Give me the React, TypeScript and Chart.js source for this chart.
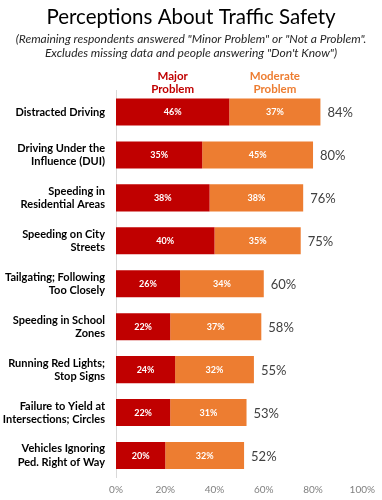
import React, { useEffect, useRef } from "react";
import { Chart, registerables } from "chart.js";

Chart.register(...registerables);

const categories: string[][] = [
  ["Distracted Driving"],
  ["Driving Under the", "Influence (DUI)"],
  ["Speeding in", "Residential Areas"],
  ["Speeding on City", "Streets"],
  ["Tailgating; Following", "Too Closely"],
  ["Speeding in School", "Zones"],
  ["Running Red Lights;", "Stop Signs"],
  ["Failure to Yield at", "Intersections; Circles"],
  ["Vehicles Ignoring", "Ped. Right of Way"],
];
const majorProblem = [46, 35, 38, 40, 26, 22, 24, 22, 20];
const moderateProblem = [37, 45, 38, 35, 34, 37, 32, 31, 32];
const totals = [84, 80, 76, 75, 60, 58, 55, 53, 52];
const xTicks = [0, 20, 40, 60, 80, 100];

const TITLE = "Perceptions About Traffic Safety";
const SUBTITLE = [
  '(Remaining respondents answered "Minor Problem" or "Not a Problem".',
  'Excludes missing data and people answering "Don\'t Know")',
];
const seriesNames = [["Major", "Problem"], ["Moderate", "Problem"]];

const RED = "#c00000";
const ORANGE = "#ed7d31";
const FONT = "Lato, 'Open Sans', sans-serif";

const overlay = {
  id: "overlay",
  afterDraw(chart: any) {
    const ctx = chart.ctx;
    const w = chart.width;
    ctx.save();
    // title
    ctx.fillStyle = "#000";
    ctx.textAlign = "center";
    ctx.textBaseline = "middle";
    ctx.font = `20.5px ${FONT}`;
    ctx.fillText(TITLE, w / 2, 17);
    ctx.font = `italic 12px ${FONT}`;
    ctx.fillStyle = "#262626";
    ctx.fillText(SUBTITLE[0], w / 2, 39);
    ctx.fillText(SUBTITLE[1], w / 2, 53);

    const m0 = chart.getDatasetMeta(0);
    const m1 = chart.getDatasetMeta(1);
    // headers above first bar
    ctx.font = `bold 11.5px ${FONT}`;
    const b0 = m0.data[0];
    const b1 = m1.data[0];
    const c0 = (b0.base + b0.x) / 2;
    const c1 = (b1.base + b1.x) / 2;
    ctx.fillStyle = RED;
    ctx.fillText(seriesNames[0][0], c0, 76);
    ctx.fillText(seriesNames[0][1], c0, 89);
    ctx.fillStyle = ORANGE;
    ctx.fillText(seriesNames[1][0], c1, 76);
    ctx.fillText(seriesNames[1][1], c1, 89);

    // inside labels
    ctx.font = `bold 9px ${FONT}`;
    ctx.fillStyle = "#fff";
    [m0, m1].forEach((meta: any, di: number) => {
      const vals = di === 0 ? majorProblem : moderateProblem;
      meta.data.forEach((bar: any, i: number) => {
        ctx.fillText(vals[i] + "%", (bar.base + bar.x) / 2, bar.y + 0.5);
      });
    });
    // totals
    ctx.font = `13px ${FONT}`;
    ctx.fillStyle = "#404040";
    ctx.textAlign = "left";
    m1.data.forEach((bar: any, i: number) => {
      ctx.fillText(totals[i] + "%", bar.x + 7, bar.y + 1);
    });
    ctx.restore();
  },
};

export default function App() {
  const ref = useRef<HTMLCanvasElement>(null);
  useEffect(() => {
    if (!ref.current) return;
    const chart = new Chart(ref.current, {
      type: "bar",
      data: {
        labels: categories,
        datasets: [
          {
            label: "Major Problem",
            data: majorProblem,
            backgroundColor: RED,
            barPercentage: 0.63,
            categoryPercentage: 1,
          },
          {
            label: "Moderate Problem",
            data: moderateProblem,
            backgroundColor: ORANGE,
            barPercentage: 0.63,
            categoryPercentage: 1,
          },
        ],
      },
      options: {
        indexAxis: "y",
        animation: false,
        responsive: false,
        layout: { padding: { top: 90.5, right: 18.5, left: 0, bottom: 0 } },
        plugins: {
          legend: { display: false },
          tooltip: { enabled: false },
          title: { display: false },
        },
        scales: {
          x: {
            stacked: true,
            min: 0,
            max: 100,
            afterBuildTicks(axis: any) {
              axis.ticks = xTicks.map((v) => ({ value: v }));
            },
            afterFit(axis: any) {
              axis.height = 23;
            },
            grid: { display: false, drawTicks: false },
            border: { display: false },
            ticks: {
              padding: 7,
              color: "#808080",
              font: { family: FONT, size: 10 },
              callback: (v: any) => v + "%",
            },
          },
          y: {
            stacked: true,
            afterFit(axis: any) {
              axis.width = 116;
            },
            grid: { display: false, drawTicks: false },
            border: { display: true, color: "#d9d9d9", width: 1 },
            ticks: {
              padding: 11,
              color: "#000",
              font: { family: FONT, size: 11, weight: "bold", lineHeight: 1.2 },
            },
          },
        },
      },
      plugins: [overlay],
    } as any);
    return () => chart.destroy();
  }, []);
  return (
    <div style={{ position: "fixed", left: 0, top: 0, width: 382, height: 500, background: "#fff" }}>
      <canvas ref={ref} width={382} height={500} style={{ display: "block" }} />
    </div>
  );
}
